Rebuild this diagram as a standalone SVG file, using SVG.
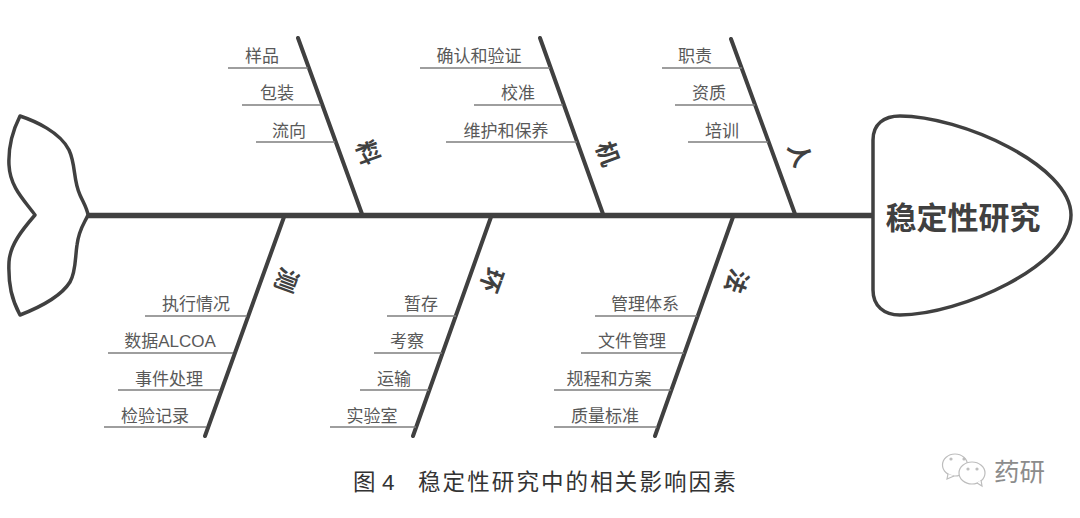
<svg xmlns="http://www.w3.org/2000/svg" width="1080" height="518" viewBox="0 0 1080 518">
<style>
text{font-family:"Liberation Sans","Noto Sans CJK SC",sans-serif;fill:#595959;font-size:17px}
.t{text-anchor:middle}
.b{font-weight:700;fill:#404040;font-size:24px;text-anchor:middle}
.h{font-size:31px}
.c{font-size:22.5px;fill:#333;letter-spacing:2.1px}
.s{stroke:#7f7f7f;stroke-width:1.5;fill:none}
.r{stroke:#404040;stroke-width:4;fill:none;stroke-linecap:round}
.o{stroke:#404040;stroke-width:3.5;fill:#fff;stroke-linejoin:round}
</style>
<rect width="1080" height="518" fill="#fff"/>
<g id="connectors">
<path d="M88 215.5H873" stroke="#404040" stroke-width="5.5" fill="none"/>
<path class="r" d="M298 38L362 214M540 38L603 214M731 39L795 214M284 217L205 436M491 217L413 436M733 217L655 436"/>
<path class="s" d="M228 68H308M242 105H321M256 142H335M420 68H550M474 105H563M446 142H577M662 68H742M675 105H755M688 142H768M145 316H247M108 353H233M118 390H220M104 427H206M387 316H456M374 353H442M360 390H429M330 427H416M595 316H697M581 353H684M554 390H671M554 427H657"/>
</g>
<g id="tail"><path class="o" d="M20 116C35 121 60 132 69 150C76 165 73 180 80 195C83 202 87 208 88 215C84 224 79 229 77 245C75 258 76 272 70 282C60 298 38 308 20 315C12 300 8 285 9 262C10 245 22 230 35 215C24 200 10 187 9 165C8 145 13 130 20 116Z"/></g>
<g id="head"><path class="o" d="M873 140C873 124 884 116 900 116C960 116 1071 165 1071 215C1071 265 960 315 900 315C884 315 873 306 873 290Z"/><text class="b h" x="963" y="229">稳定性研究</text></g>
<g id="cat-liao"><text class="b" transform="translate(367 153) rotate(70)" y="8">料</text></g>
<g id="cat-ji"><text class="b" transform="translate(607 154) rotate(70)" y="8">机</text></g>
<g id="cat-ren"><text class="b" transform="translate(799 155) rotate(70)" y="8">人</text></g>
<g id="cat-ce"><text class="b" transform="translate(286 280) rotate(110)" y="8">测</text></g>
<g id="cat-huan"><text class="b" transform="translate(491 280) rotate(110)" y="8">环</text></g>
<g id="cat-fa"><text class="b" transform="translate(736 281) rotate(110)" y="8">法</text></g>
<g id="labels-top">
<text class="t" x="262" y="62">样品</text><text class="t" x="277" y="99">包装</text><text class="t" x="289" y="137">流向</text>
<text class="t" x="479" y="62">确认和验证</text><text class="t" x="518" y="99">校准</text><text class="t" x="506" y="137">维护和保养</text>
<text class="t" x="695" y="62">职责</text><text class="t" x="709" y="99">资质</text><text class="t" x="722" y="137">培训</text>
</g>
<g id="labels-bottom">
<text class="t" x="196" y="310">执行情况</text><text class="t" x="170" y="347">数据ALCOA</text><text class="t" x="169" y="385">事件处理</text><text class="t" x="155" y="422">检验记录</text>
<text class="t" x="421" y="310">暂存</text><text class="t" x="407" y="347">考察</text><text class="t" x="394" y="385">运输</text><text class="t" x="372" y="422">实验室</text>
<text class="t" x="645" y="310">管理体系</text><text class="t" x="632" y="347">文件管理</text><text class="t" x="609" y="385">规程和方案</text><text class="t" x="605" y="422">质量标准</text>
</g>
<g id="caption">
<text class="c" x="353" y="490">图</text><text class="c" x="382" y="490">4</text>
<text class="c" x="418" y="490">稳定性研究中的相关影响因素</text>
</g>
<g id="watermark" fill="#fff" stroke="#bdbdbd" stroke-width="1.2">
<ellipse cx="955" cy="465" rx="12.5" ry="11"/><path d="M948 474L947 479L954 476"/>
<ellipse cx="972" cy="473" rx="13" ry="11"/><path d="M977 483L982 486L981 480"/>
<circle cx="951" cy="459" r="1" fill="#bdbdbd"/><circle cx="964" cy="459" r="1" fill="#bdbdbd"/><circle cx="968" cy="469" r="1" fill="#bdbdbd"/><circle cx="977" cy="469" r="1" fill="#bdbdbd"/>
</g>
<text x="994" y="481" style="font-size:25.5px;fill:#8c8c8c">药研</text>
</svg>
